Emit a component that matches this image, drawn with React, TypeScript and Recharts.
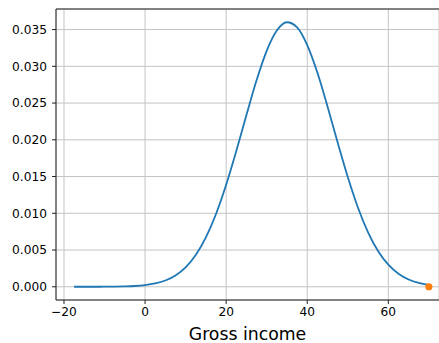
import {
  CartesianGrid, ComposedChart, Line, ReferenceLine, Scatter, XAxis, YAxis,
} from 'recharts'

// density curve
const incomes = [
  -17.5, -15, -12.5, -10, -7.5, -5, -2.5, 0, 2.5, 5, 7.5, 10, 12.5, 15, 17.5,
  20, 22.5, 25, 27.5, 30, 32.5, 35, 37.5, 40, 42.5, 45, 47.5, 50, 52.5, 55,
  57.5, 60, 62.5, 65, 67.5, 70,
]
const density = [
  0.0000004, 0.0000012, 0.0000033, 0.0000084, 0.000021, 0.000048, 0.000107,
  0.000225, 0.00045, 0.000855, 0.00155, 0.00265, 0.00433, 0.00672, 0.0099,
  0.01387, 0.01847, 0.02337, 0.0281, 0.03211, 0.03487, 0.036, 0.0353, 0.0329,
  0.02915, 0.02454, 0.01963, 0.01493, 0.01079, 0.00741, 0.00483, 0.003,
  0.00177, 0.00099, 0.00053, 0.00027,
]

// the highlighted observation
const markX = [70]
const markY = [0]

const xTicks = [-20, 0, 20, 40, 60]
const yTicks = [0, 0.005, 0.01, 0.015, 0.02, 0.025, 0.03, 0.035]

const X_DOMAIN: [number, number] = [-21.97, 72.5]
const Y_DOMAIN: [number, number] = [-0.0018, 0.0378]

const curve = incomes.map((x, i) => ({ x, y: density[i] }))
const marks = markX.map((x, i) => ({ x, y: markY[i] }))

const TICK = { fill: '#000', fontSize: 12.2, fontFamily: 'DejaVu Sans' }

export default function App() {
  return (
    <div style={{ position: 'fixed', left: 0, top: 0, background: '#fff' }}>
      <ComposedChart
        width={439}
        height={343}
        margin={{ top: 9, right: 0, bottom: 0, left: 0 }}
      >
        <CartesianGrid stroke="#c4c4c4" strokeWidth={1} />
        <XAxis
          type="number"
          dataKey="x"
          domain={X_DOMAIN}
          ticks={xTicks}
          allowDataOverflow
          tickFormatter={(v: number) => String(v).replace('-', '\u2212')}
          tick={TICK}
          tickSize={4}
          tickMargin={3}
          stroke="#222"
          height={43}
          label={{
            value: 'Gross income',
            position: 'insideBottom',
            offset: 3,
            style: { fill: '#000', fontSize: 17.3, fontFamily: 'DejaVu Sans' },
          }}
        />
        <YAxis
          type="number"
          dataKey="y"
          domain={Y_DOMAIN}
          ticks={yTicks}
          allowDataOverflow
          tickFormatter={(v: number) => v.toFixed(3)}
          tick={TICK}
          tickSize={4}
          tickMargin={5}
          stroke="#222"
          width={56}
        />
        <ReferenceLine y={Y_DOMAIN[1]} stroke="#222" strokeWidth={1} />
        <Line
          data={curve}
          dataKey="y"
          type="monotone"
          stroke="#1f77b4"
          strokeWidth={1.8}
          dot={false}
          isAnimationActive={false}
        />
        <Scatter
          data={marks}
          dataKey="y"
          fill="#ff7f0e"
          shape={(p: any) => <circle cx={p.cx} cy={p.cy} r={3.6} fill="#ff7f0e" />}
          isAnimationActive={false}
        />
      </ComposedChart>
    </div>
  )
}
